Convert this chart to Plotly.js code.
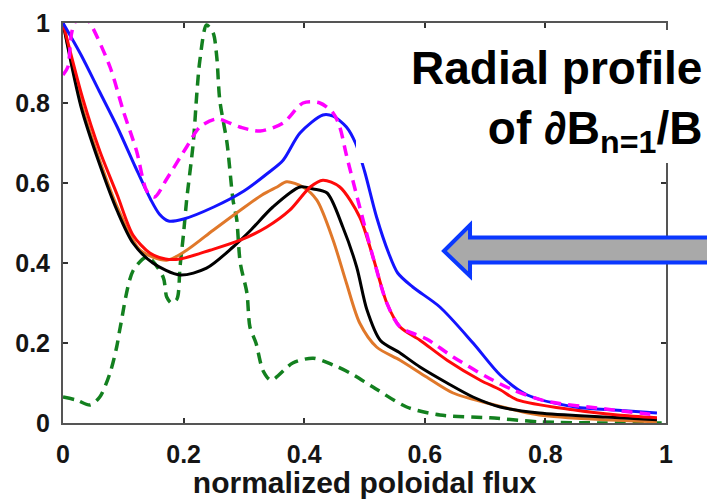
<!DOCTYPE html>
<html>
<head>
<meta charset="utf-8">
<script src="https://cdn.plot.ly/plotly-3.0.1.min.js"></script>
<style>html,body{margin:0;padding:0;background:#fff;}#chart{width:707px;height:499px;}</style>
</head>
<body>
<div id="chart"></div>
<script>
// ---- data ----
const xTicks = [0, 0.2, 0.4, 0.6, 0.8, 1];
const xTickLabels = ["0", "0.2", "0.4", "0.6", "0.8", "1"];
const yTicks = [0, 0.2, 0.4, 0.6, 0.8, 1];
const yTickLabels = ["0", "0.2", "0.4", "0.6", "0.8", "1"];

const xOrange = [0, 0.03, 0.06, 0.09, 0.128, 0.172, 0.205, 0.249, 0.294, 0.33, 0.355, 0.371, 0.398, 0.421, 0.448, 0.47, 0.492, 0.52, 0.559, 0.603, 0.647, 0.703, 0.79, 0.9, 0.985];
const yOrange = [1, 0.8, 0.66, 0.54, 0.432, 0.407, 0.432, 0.482, 0.532, 0.57, 0.59, 0.603, 0.59, 0.557, 0.457, 0.35, 0.25, 0.19, 0.157, 0.115, 0.075, 0.05, 0.02, 0.008, 0.003];

const xBlack = [0, 0.03, 0.06, 0.09, 0.116, 0.149, 0.194, 0.238, 0.282, 0.31, 0.348, 0.393, 0.415, 0.438, 0.464, 0.487, 0.504, 0.526, 0.559, 0.592, 0.637, 0.68, 0.725, 0.79, 0.9, 0.985];
const yBlack = [1, 0.79, 0.65, 0.53, 0.45, 0.40, 0.37, 0.387, 0.44, 0.48, 0.54, 0.59, 0.585, 0.575, 0.49, 0.39, 0.283, 0.207, 0.175, 0.14, 0.10, 0.065, 0.04, 0.025, 0.015, 0.008];

const xRed = [0, 0.033, 0.061, 0.09, 0.116, 0.144, 0.17, 0.194, 0.244, 0.294, 0.338, 0.376, 0.41, 0.431, 0.459, 0.492, 0.515, 0.537, 0.559, 0.592, 0.637, 0.692, 0.725, 0.753, 0.846, 0.92, 0.985];
const yRed = [1, 0.81, 0.68, 0.57, 0.47, 0.425, 0.41, 0.41, 0.432, 0.457, 0.49, 0.532, 0.59, 0.607, 0.59, 0.515, 0.41, 0.30, 0.24, 0.207, 0.157, 0.107, 0.083, 0.058, 0.033, 0.02, 0.013];

const xBlue = [0, 0.03, 0.06, 0.09, 0.12, 0.145, 0.16, 0.175, 0.2, 0.25, 0.3, 0.34, 0.365, 0.393, 0.431, 0.448, 0.47, 0.485, 0.5, 0.52, 0.54, 0.555, 0.58, 0.625, 0.68, 0.725, 0.77, 0.85, 0.92, 0.985];
const yBlue = [1, 0.92, 0.83, 0.74, 0.64, 0.56, 0.522, 0.505, 0.51, 0.54, 0.58, 0.625, 0.657, 0.725, 0.77, 0.767, 0.74, 0.70, 0.63, 0.515, 0.425, 0.375, 0.34, 0.29, 0.2, 0.12, 0.07, 0.04, 0.032, 0.025];

const xMagenta = [0, 0.008, 0.015, 0.03, 0.045, 0.078, 0.1, 0.122, 0.139, 0.152, 0.172, 0.205, 0.227, 0.255, 0.293, 0.327, 0.365, 0.398, 0.426, 0.448, 0.459, 0.47, 0.492, 0.515, 0.537, 0.559, 0.603, 0.647, 0.703, 0.746, 0.8, 0.9, 0.985];
const yMagenta = [0.87, 0.89, 0.98, 1.03, 1.0, 0.89, 0.78, 0.68, 0.58, 0.565, 0.61, 0.69, 0.74, 0.76, 0.74, 0.73, 0.75, 0.80, 0.80, 0.775, 0.74, 0.67, 0.54, 0.41, 0.30, 0.24, 0.21, 0.165, 0.115, 0.083, 0.055, 0.035, 0.02];

const xGreen = [0, 0.023, 0.045, 0.061, 0.078, 0.089, 0.095, 0.116, 0.14, 0.166, 0.172, 0.18, 0.189, 0.194, 0.2, 0.205, 0.216, 0.222, 0.227, 0.238, 0.249, 0.255, 0.26, 0.272, 0.282, 0.288, 0.294, 0.305, 0.31, 0.32, 0.332, 0.345, 0.381, 0.415, 0.448, 0.476, 0.514, 0.57, 0.625, 0.708, 0.79, 0.9, 1.0];
const yGreen = [0.065, 0.057, 0.045, 0.065, 0.125, 0.19, 0.24, 0.38, 0.415, 0.365, 0.315, 0.30, 0.31, 0.39, 0.475, 0.557, 0.70, 0.825, 0.907, 0.995, 0.975, 0.915, 0.807, 0.70, 0.557, 0.51, 0.40, 0.325, 0.24, 0.2, 0.13, 0.107, 0.15, 0.162, 0.145, 0.125, 0.09, 0.04, 0.02, 0.013, 0.003, 0.0, 0.0];

// ---- layout geometry ----
const W = 707, H = 499;
const M = {l: 63, r: 41, t: 23, b: 76};
const PW = W - M.l - M.r, PH = H - M.t - M.b;
const px2x = p => (p - M.l) / PW;
const py2y = p => (H - M.b - p) / PH;

const FONT = "Liberation Sans, Arial, Helvetica, sans-serif";

function line(x, y, color, width, dash) {
  return {x: x, y: y, type: 'scatter', mode: 'lines',
    line: {color: color, width: width, dash: dash || 'solid', shape: 'spline', smoothing: 0.8},
    hoverinfo: 'skip', showlegend: false};
}

const traces = [
  line(xGreen, yGreen, '#13801f', 3.5, '11px,7px'),
  line(xOrange, yOrange, '#e0782a', 3),
  line(xBlack, yBlack, '#000000', 3),
  line(xRed, yRed, '#ff0a0a', 3),
  line(xBlue, yBlue, '#1414ff', 3),
  line(xMagenta, yMagenta, '#ff00ff', 3.5, '11px,7px')
];

const arrowPts = [[444, 251], [470, 225], [470, 237.5], [712, 237.5], [712, 262.5], [470, 262.5], [470, 276]];
const arrowPath = 'M ' + arrowPts.map(p => px2x(p[0]).toFixed(4) + ',' + py2y(p[1]).toFixed(4)).join(' L ') + ' Z';

const axisCommon = {
  range: [0, 1], showgrid: false, zeroline: false,
  showline: true, linecolor: '#555', linewidth: 2, mirror: 'ticks',
  ticks: 'inside', ticklen: 5, tickwidth: 2, tickcolor: '#333',
  tickfont: {family: FONT, size: 25, color: '#151515', weight: 700},
  tickmode: 'array'
};

const layout = {
  width: W, height: H, margin: M,
  paper_bgcolor: '#fff', plot_bgcolor: '#fff',
  showlegend: false,
  xaxis: Object.assign({}, axisCommon, {
    tickvals: xTicks, ticktext: xTickLabels, ticklabelstandoff: 8,
    title: {text: 'normalized poloidal flux', font: {family: FONT, size: 30, color: '#151515', weight: 700}, standoff: 3}
  }),
  yaxis: Object.assign({}, axisCommon, {
    tickvals: yTicks, ticktext: yTickLabels, ticklabelstandoff: 6
  }),
  shapes: [
    {type: 'rect', xref: 'paper', yref: 'paper', layer: 'above',
      x0: px2x(356), x1: px2x(710), y0: py2y(163), y1: py2y(30),
      fillcolor: '#ffffff', line: {width: 0}},
    {type: 'path', xref: 'paper', yref: 'paper', layer: 'above', path: arrowPath,
      fillcolor: '#a9a9a9', line: {color: '#0a38ff', width: 4}}
  ],
  annotations: [
    {xref: 'paper', yref: 'paper', x: px2x(704), y: py2y(40), xanchor: 'right', yanchor: 'top',
      align: 'right', showarrow: false,
      text: 'Radial profile<br>of ∂B<sub>n=1</sub>/B',
      font: {family: FONT, size: 46, color: '#000', weight: 700}}
  ]
};

Plotly.newPlot('chart', traces, layout, {staticPlot: true, displayModeBar: false});
</script>
</body>
</html>
